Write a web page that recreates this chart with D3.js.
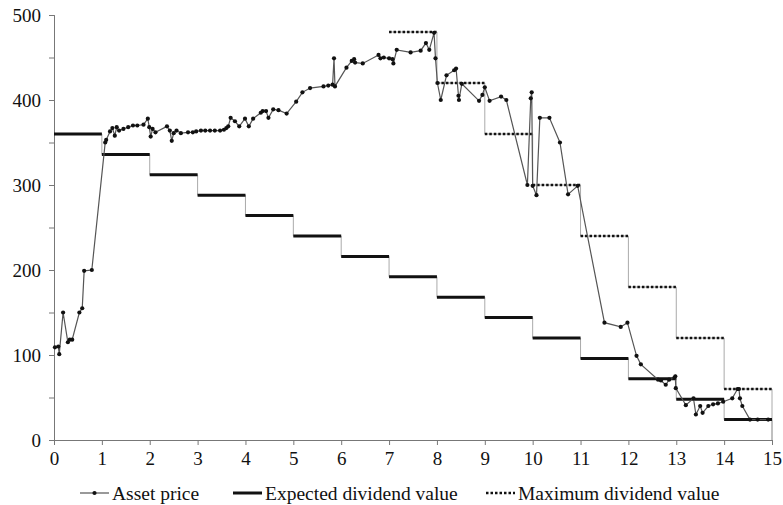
<!DOCTYPE html>
<html>
<head>
<meta charset="utf-8">
<script src="https://cdn.jsdelivr.net/npm/d3@7"></script>
<style>
  body { margin: 0; background: #fff; }
  .legend text { font-size: 19.5px; fill: #111; font-family: "Liberation Serif", serif; }
</style>
</head>
<body>
<svg id="chart" width="783" height="505"></svg>
<script>
// asset price observations (period, price)
const assetTime = [0.02, 0.09, 0.11, 0.19, 0.29, 0.33, 0.38, 0.53, 0.59, 0.63, 0.79,
  1.07, 1.09, 1.17, 1.22, 1.27, 1.31, 1.36, 1.45, 1.55, 1.65, 1.74, 1.87, 1.96, 1.99,
  2.02, 2.06, 2.12, 2.36, 2.42, 2.46, 2.5, 2.56, 2.65, 2.8, 2.9, 2.97,
  3.07, 3.16, 3.26, 3.36, 3.47, 3.55, 3.6, 3.64, 3.69, 3.78, 3.87, 3.99,
  4.07, 4.16, 4.32, 4.36, 4.43, 4.48, 4.58, 4.69, 4.86,
  5.06, 5.19, 5.35, 5.63, 5.73, 5.82, 5.85, 5.87,
  6.11, 6.22, 6.27, 6.29, 6.45, 6.78, 6.82, 6.89,
  7.0, 7.07, 7.09, 7.16, 7.45, 7.66, 7.77, 7.84, 7.94, 7.97,
  8.01, 8.08, 8.2, 8.36, 8.4, 8.45, 8.46, 8.52, 8.88, 8.95,
  9.0, 9.1, 9.34, 9.45, 9.89, 9.96, 9.98,
  10.0, 10.08, 10.15, 10.35, 10.57, 10.74, 10.94,
  11.5, 11.84, 11.98,
  12.17, 12.26, 12.62, 12.68, 12.78, 12.85, 12.96, 12.98, 12.99,
  13.2, 13.36, 13.41, 13.5, 13.55, 13.67, 13.77, 13.87, 13.98,
  14.17, 14.28, 14.31, 14.33, 14.38, 14.54, 14.7, 14.92];
const assetPrice = [109, 110, 101, 150, 115, 118, 118, 150, 155, 199, 200,
  350, 353, 363, 367, 358, 368, 364, 366, 368, 370, 370, 371, 378, 368,
  357, 366, 362, 369, 364, 352, 361, 364, 361, 362, 362, 363,
  364, 364, 364, 364, 364, 365, 367, 369, 379, 375, 369, 378,
  369, 378, 385, 387, 387, 379, 389, 388, 384,
  398, 409, 414, 416, 417, 418, 449, 416,
  438, 446, 448, 444, 443, 453, 449, 450,
  449, 448, 443, 459, 456, 458, 467, 459, 479, 449,
  420, 400, 429, 435, 437, 405, 400, 419, 399, 406,
  415, 399, 404, 400, 300, 402, 409,
  299, 288, 379, 379, 350, 289, 299,
  138, 133, 138,
  99, 89, 71, 70, 65, 71, 73, 75, 61,
  41, 49, 30, 40, 32, 40, 42, 43, 45,
  49, 60, 60, 49, 40, 24, 24, 24];

// step starts and values of the two dividend series
const expectedStart = [0, 1, 2, 3, 4, 5, 6, 7, 8, 9, 10, 11, 12, 13, 14];
const expectedValue = [360, 336, 312, 288, 264, 240, 216, 192, 168, 144, 120, 96, 72, 48, 24];
const maximumStart = [7, 8, 9, 10, 11, 12, 13, 14];
const maximumValue = [480, 420, 360, 300, 240, 180, 120, 60];

const xTicks = [0, 1, 2, 3, 4, 5, 6, 7, 8, 9, 10, 11, 12, 13, 14, 15];
const yTicks = [0, 100, 200, 300, 400, 500];
const yMinorTicks = [0, 50, 100, 150, 200, 250, 300, 350, 400, 450, 500];
const legendLabels = ["Asset price", "Expected dividend value", "Maximum dividend value"];

const serif = "'Liberation Serif', 'Times New Roman', serif";

const margin = { top: 15, right: 11, bottom: 65, left: 54 },
    width = 783 - margin.left - margin.right,
    height = 505 - margin.top - margin.bottom;

const svg = d3.select("#chart")
    .append("g")
    .attr("transform", `translate(${margin.left},${margin.top})`);

const x = d3.scaleLinear().domain([0, 15]).range([0, width]);
const y = d3.scaleLinear().domain([0, 500]).range([height, 0]);

function styleAxis(g) {
    g.attr("font-family", serif).attr("font-size", 19);
    g.selectAll("line, path").attr("stroke", "#777");
    g.selectAll("text")
        .attr("fill", "#111")
        .style("font-family", serif)
        .style("font-size", "19px");
}

// axes
svg.append("g")
    .call(d3.axisLeft(y).tickValues(yMinorTicks).tickSize(5).tickFormat(""))
    .call(styleAxis);

svg.append("g")
    .call(d3.axisLeft(y).tickValues(yTicks).tickSize(5).tickPadding(8))
    .call(styleAxis);

svg.append("g")
    .attr("transform", `translate(0,${height})`)
    .call(d3.axisBottom(x).tickValues(xTicks).tickSize(5).tickPadding(7))
    .call(styleAxis);

// step line helper: builds points with a final drop to zero at t = 15
function stepPoints(starts, values) {
    const pts = starts.map((s, i) => [s, values[i]]);
    pts.push([15, values[values.length - 1]]);
    pts.push([15, 0]);
    return pts;
}

const stepLine = d3.line()
    .x(d => x(d[0]))
    .y(d => y(d[1]))
    .curve(d3.curveStepAfter);

// thin grey connectors
svg.append("path")
    .datum(stepPoints(expectedStart, expectedValue))
    .attr("fill", "none")
    .attr("stroke", "#aaa")
    .attr("stroke-width", 1)
    .attr("d", stepLine);

svg.append("path")
    .datum(stepPoints(maximumStart, maximumValue))
    .attr("fill", "none")
    .attr("stroke", "#aaa")
    .attr("stroke-width", 1)
    .attr("d", stepLine);

// maximum dividend: dotted treads
svg.selectAll(".maxstep")
    .data(maximumStart.map((s, i) => [s, maximumValue[i]]))
    .enter()
    .append("line")
    .attr("class", "maxstep")
    .attr("x1", d => x(d[0]))
    .attr("x2", d => x(d[0] + 1))
    .attr("y1", d => y(d[1]))
    .attr("y2", d => y(d[1]))
    .attr("stroke", "#111")
    .attr("stroke-width", 2.5)
    .attr("stroke-dasharray", "2.5,2");

// expected dividend: thick treads
svg.selectAll(".expstep")
    .data(expectedStart.map((s, i) => [s, expectedValue[i]]))
    .enter()
    .append("line")
    .attr("class", "expstep")
    .attr("x1", d => x(d[0]))
    .attr("x2", d => x(d[0] + 1))
    .attr("y1", d => y(d[1]))
    .attr("y2", d => y(d[1]))
    .attr("stroke", "#111")
    .attr("stroke-width", 3);

// asset price
const assetData = assetTime.map((t, i) => [t, assetPrice[i]]);

svg.append("path")
    .datum(assetData)
    .attr("fill", "none")
    .attr("stroke", "#555")
    .attr("stroke-width", 1.2)
    .attr("d", d3.line().x(d => x(d[0])).y(d => y(d[1])));

svg.selectAll(".dot")
    .data(assetData)
    .enter()
    .append("circle")
    .attr("class", "dot")
    .attr("cx", d => x(d[0]))
    .attr("cy", d => y(d[1]))
    .attr("r", 2.1)
    .attr("fill", "#111");

// legend
const legend = d3.select("#chart").append("g").attr("class", "legend");
const legendX = [80, 233, 486];
const legendY = 493;

legendLabels.forEach((label, i) => {
    const g = legend.append("g").attr("transform", `translate(${legendX[i]},${legendY})`);
    const ln = g.append("line")
        .attr("x1", 0).attr("x2", 29)
        .attr("y1", 0).attr("y2", 0);
    if (i === 0) {
        ln.attr("stroke", "#555").attr("stroke-width", 1.2);
        g.append("circle").attr("cx", 14.5).attr("cy", 0).attr("r", 2.1).attr("fill", "#111");
    } else if (i === 1) {
        ln.attr("stroke", "#111").attr("stroke-width", 3);
    } else {
        ln.attr("stroke", "#111").attr("stroke-width", 2.5).attr("stroke-dasharray", "2.5,2");
    }
    g.append("text")
        .attr("x", 32)
        .attr("y", 0)
        .attr("dy", "0.35em")
        .text(label);
});
</script>
</body>
</html>
